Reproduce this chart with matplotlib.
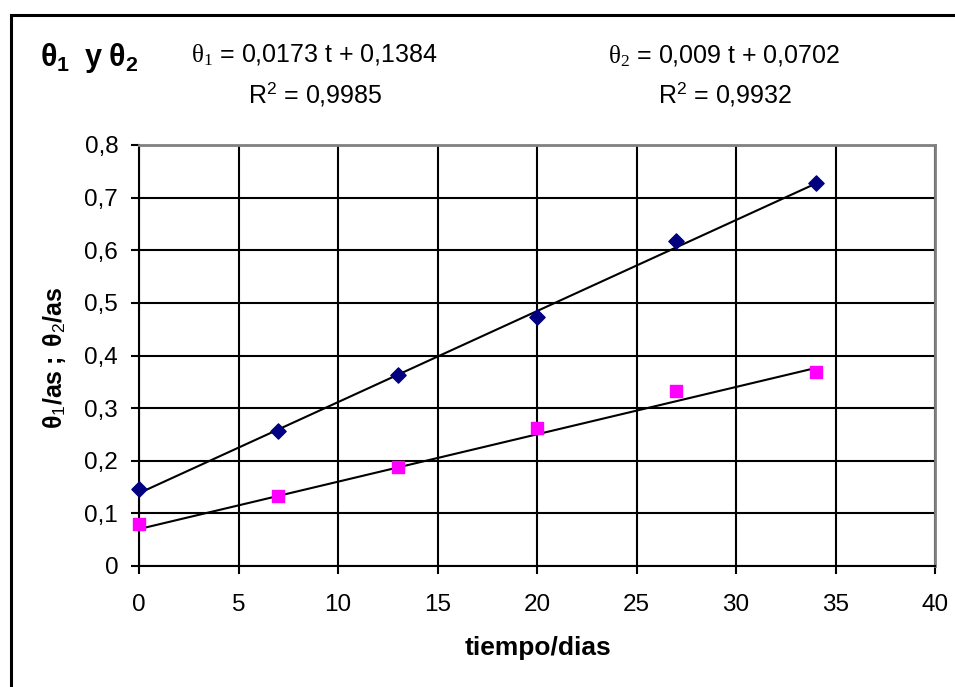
import matplotlib
matplotlib.use("Agg")
import matplotlib.pyplot as plt
from matplotlib.patches import Rectangle
import numpy as np

plt.rcParams['font.family'] = ['Liberation Sans', 'DejaVu Sans']
plt.rcParams['mathtext.fontset'] = 'custom'
plt.rcParams['mathtext.rm'] = 'Liberation Serif'
plt.rcParams['mathtext.it'] = 'Liberation Serif:italic'
plt.rcParams['mathtext.bf'] = 'Liberation Sans:bold'
plt.rcParams['mathtext.sf'] = 'Liberation Sans'

# Data
t = [0, 7, 13, 20, 27, 34]
theta1 = [0.147, 0.257, 0.363, 0.474, 0.618, 0.728]
theta2 = [0.080, 0.133, 0.189, 0.262, 0.333, 0.368]
fit1 = [0.0173, 0.1384]   # slope, intercept
fit2 = [0.009, 0.0702]
xticks = [0, 5, 10, 15, 20, 25, 30, 35, 40]
yticks = [0, 0.1, 0.2, 0.3, 0.4, 0.5, 0.6, 0.7, 0.8]
yticklabels = ['0', '0,1', '0,2', '0,3', '0,4', '0,5', '0,6', '0,7', '0,8']

W, H = 955, 687
fig = plt.figure(figsize=(W/100, H/100), dpi=100)
fig.patch.set_facecolor('white')

def fx(px):
    return px / W

def fy(py):
    return 1 - py / H

# figure border (open at right and bottom, extends past the image)
fig.add_artist(Rectangle((fx(11), -0.1), 1.2, fy(15) + 0.1, transform=fig.transFigure,
                         fill=False, edgecolor='black', linewidth=2.2))

ax = fig.add_axes([fx(139), fy(566), (935-139)/W, (566-145)/H])
ax.set_xlim(0, 40)
ax.set_ylim(0, 0.8)

ax.set_xticks(xticks)
ax.set_xticklabels([str(v) for v in xticks])
ax.set_yticks(yticks)
ax.set_yticklabels(yticklabels)
ax.grid(True, color='black', linewidth=1.5)
ax.set_axisbelow(True)

for s in ['top', 'right']:
    ax.spines[s].set_color('#808080')
    ax.spines[s].set_linewidth(2)
for s in ['left', 'bottom']:
    ax.spines[s].set_color('black')
    ax.spines[s].set_linewidth(1.5)

ax.tick_params(axis='both', direction='out', length=6, width=1.5, labelsize=17.5, color='black')
ax.tick_params(axis='x', pad=14)
ax.tick_params(axis='y', pad=9)

tt = np.array([0, 34])
ax.plot(tt, fit1[0]*tt + fit1[1], color='black', linewidth=1.5, zorder=3)
ax.plot(tt, fit2[0]*tt + fit2[1], color='black', linewidth=1.5, zorder=3)
ax.scatter(t, theta1, marker='D', s=60, color='#000080', zorder=4, clip_on=False)
ax.scatter(t, theta2, marker='s', s=80, color='#FF00FF', zorder=4, clip_on=False)

fig.text(fx(538), fy(648), 'tiempo/dias', fontsize=19, fontweight='bold', ha='center', va='center')
fig.text(fx(55), fy(358), r'$\mathbf{\theta}_{\mathsf{1}}\mathbf{/as\ ;\ \theta}_{\mathsf{2}}\mathbf{/as}$', fontsize=18,
         rotation=90, ha='center', va='center')

fig.text(fx(40), fy(66), r'$\mathbf{\theta_1\ \ y\ \theta_2}$', fontsize=22, ha='left', va='baseline')
fig.text(fx(314), fy(62), r'$\mathrm{\theta_1}$ = 0,0173 t + 0,1384', fontsize=18, ha='center', va='baseline')
fig.text(fx(315), fy(102), r'R$^{\mathsf{2}}$ = 0,9985', fontsize=18, ha='center', va='baseline')
fig.text(fx(724), fy(63), r'$\mathrm{\theta_2}$ = 0,009 t + 0,0702', fontsize=18, ha='center', va='baseline')
fig.text(fx(725), fy(102), r'R$^{\mathsf{2}}$ = 0,9932', fontsize=18, ha='center', va='baseline')

fig.savefig('out.png', dpi=100)
